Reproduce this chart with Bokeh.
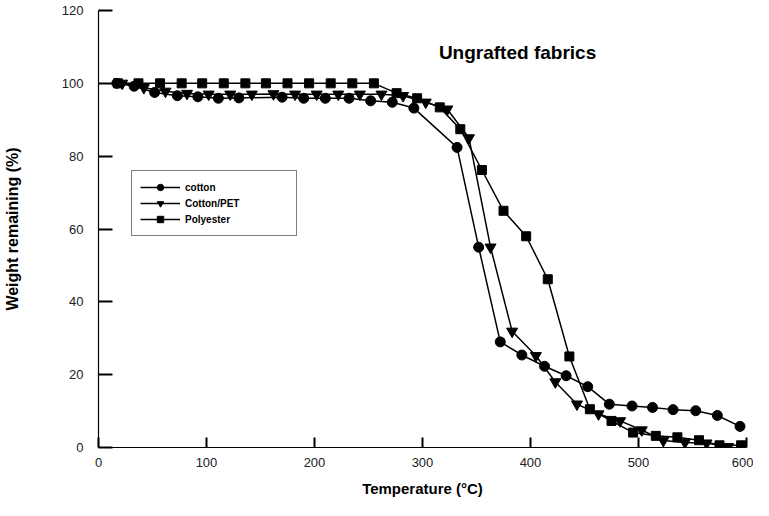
from bokeh.plotting import figure
from bokeh.models import Range1d, FixedTicker, Label, Legend, LegendItem
from bokeh.embed import file_html
from bokeh.resources import INLINE

# ---- data ----
cotton_T = [17, 33, 52, 73, 92, 111, 130, 170, 190, 210, 232, 252, 272, 292,
            332, 352, 372, 392, 413, 433, 453, 473, 494, 513, 532, 553, 573, 594]
cotton_W = [100.0, 99.2, 97.5, 96.6, 96.3, 95.9, 96.0, 96.2, 95.9, 95.9, 95.9, 95.2, 94.8, 93.2,
            82.4, 55.0, 29.0, 25.4, 22.3, 19.7, 16.7, 11.9, 11.4, 11.0, 10.4, 10.1, 8.8, 5.8]

pet_T = [22, 42, 62, 82, 102, 122, 142, 162, 182, 202, 222, 242, 262, 282, 303, 323,
         343, 363, 383, 405, 423, 443, 463, 483, 503, 523, 543, 563, 583]
pet_W = [100.0, 98.8, 97.8, 97.2, 97.0, 97.0, 97.0, 97.1, 97.0, 97.0, 97.0, 97.0, 97.0, 96.6, 94.8, 92.9,
         85.0, 55.0, 31.9, 25.2, 18.0, 11.9, 9.2, 7.3, 4.8, 1.9, 1.4, 1.2, 0.2]

poly_T = [18, 37, 57, 77, 96, 116, 136, 155, 175, 195, 215, 235, 255, 276, 295, 316,
          335, 355, 375, 396, 416, 436, 455, 475, 495, 516, 536, 556, 575, 595]
poly_W = [100.0, 100.0, 100.0, 100.0, 100.0, 100.0, 100.0, 100.0, 100.0, 100.0, 100.0, 100.0, 100.0, 97.3, 95.9, 93.4,
          87.4, 76.2, 65.0, 58.0, 46.2, 25.0, 10.5, 7.3, 4.1, 3.2, 2.8, 2.0, 0.6, 0.6]

series_names = ["cotton", "Cotton/PET", "Polyester"]
x_ticks = [0, 100, 200, 300, 400, 500, 600]
y_ticks = [0, 20, 40, 60, 80, 100, 120]

FONT = "Liberation Sans"

p = figure(width=753, height=500, output_backend="svg", toolbar_location=None,
           x_range=Range1d(0, 600), y_range=Range1d(0, 120),
           min_border_left=96, min_border_right=7, min_border_top=10, min_border_bottom=53)
p.xgrid.visible = False
p.ygrid.visible = False
p.outline_line_color = None
p.background_fill_color = "white"
p.border_fill_color = "white"

for ax in (p.xaxis, p.yaxis):
    ax.axis_line_color = "black"
    ax.axis_line_width = 1.2
    ax.major_tick_out = 0
    ax.minor_tick_in = 0
    ax.minor_tick_out = 0
    ax.major_tick_line_color = "black"
    ax.major_tick_line_width = 2
    ax.major_label_text_font = FONT
    ax.major_label_text_font_size = "13px"
    ax.major_label_text_color = "#222222"
    ax.axis_label_text_font = FONT
    ax.axis_label_text_font_style = "bold"
    ax.axis_label_text_color = "black"

p.xaxis.ticker = FixedTicker(ticks=x_ticks)
p.yaxis.ticker = FixedTicker(ticks=y_ticks)
p.xaxis.major_tick_in = 10
p.yaxis.major_tick_in = 14
p.xaxis.major_label_standoff = 10
p.yaxis.major_label_standoff = 15
p.xaxis.axis_label = "Temperature (°C)"
p.yaxis.axis_label = "Weight remaining (%)"
p.xaxis.axis_label_text_font_size = "15px"
p.yaxis.axis_label_text_font_size = "16px"
p.xaxis.axis_label_standoff = 10
p.yaxis.axis_label_standoff = 38

items = []
specs = [(cotton_T, cotton_W, "circle", 10),
         (pet_T, pet_W, "inverted_triangle", 11),
         (poly_T, poly_W, "square", 9)]
for name, (xs, ys, mk, sz) in zip(series_names, specs):
    ln = p.line(xs, ys, line_color="black", line_width=1.5)
    sc = p.scatter(xs, ys, marker=mk, size=sz, fill_color="black", line_color="black")
    items.append(LegendItem(label=name, renderers=[ln, sc]))

legend = Legend(items=items, location=(33, 211))
legend.border_line_color = "black"
legend.border_line_width = 1
legend.background_fill_color = "white"
legend.background_fill_alpha = 1
legend.label_text_font = FONT
legend.label_text_font_style = "bold"
legend.label_text_font_size = "10px"
legend.label_text_color = "black"
legend.glyph_width = 40
legend.glyph_height = 16
legend.label_height = 12
legend.label_width = 103
legend.label_standoff = 5
legend.spacing = 0
legend.padding = 8
legend.margin = 0
p.add_layout(legend)

title = Label(x=388, y=108.5, text="Ungrafted fabrics", text_align="center",
              text_baseline="middle", text_font=FONT, text_font_style="bold",
              text_font_size="19px", text_color="black")
p.add_layout(title)

open("out.html", "w").write(file_html(p, INLINE))
